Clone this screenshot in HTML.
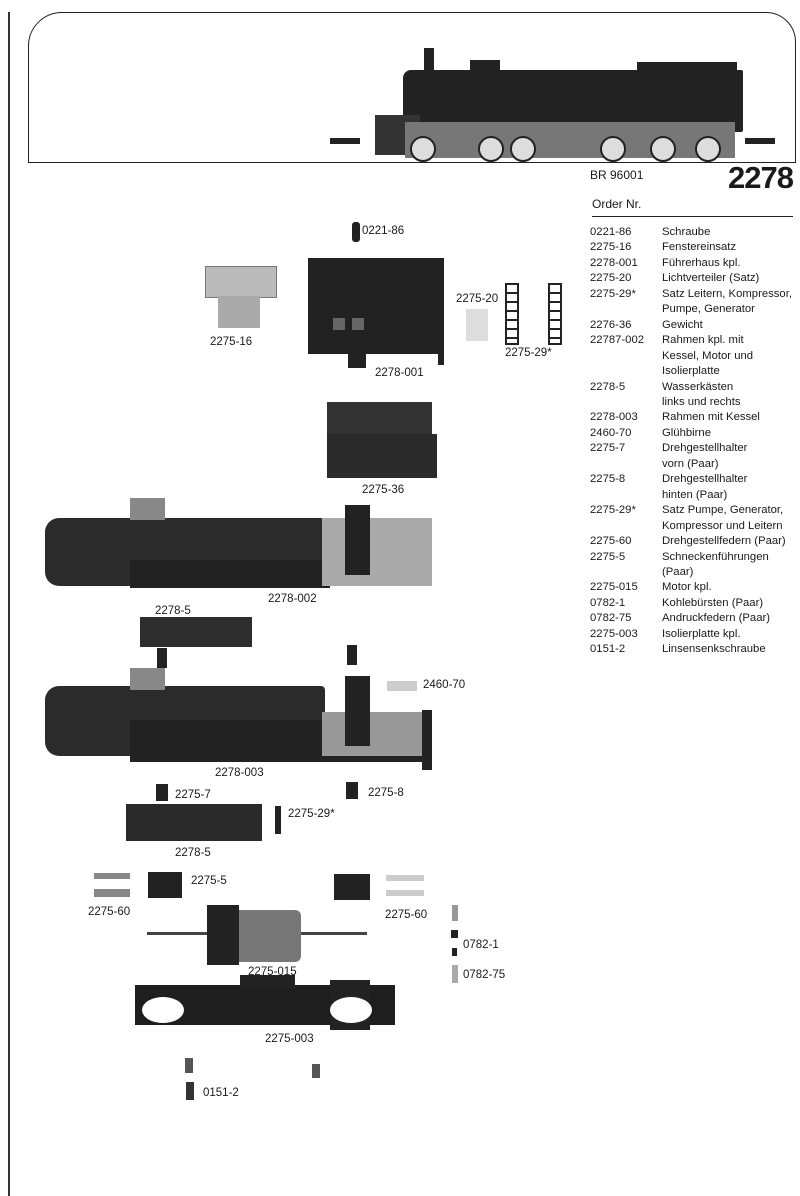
<!DOCTYPE html>
<html><head><meta charset="utf-8"><style>
body{margin:0;background:#fff;}
#p{position:relative;width:800px;height:1196px;overflow:hidden;background:#fff;font-family:"Liberation Sans",sans-serif;color:#1a1a1a;}
.a{position:absolute;}
.t{position:absolute;font-size:11.5px;white-space:nowrap;line-height:14px;z-index:5;}
.d{position:absolute;background:#222;}
.m{position:absolute;background:#555;}
.g{position:absolute;background:#bbb;}
.l{position:absolute;font-size:11.3px;line-height:15.45px;white-space:nowrap;}
</style></head><body><div id="p">
<div class="a" style="left:8px;top:12px;width:1.5px;height:1184px;background:#333"></div>
<div class="a" style="left:28px;top:12px;width:768px;height:151px;border:1.5px solid #222;border-radius:34px 30px 0 0;box-sizing:border-box"></div>
<!-- locomotive -->
<div class="d" style="left:403px;top:70px;width:340px;height:62px;border-radius:8px 2px 2px 2px"></div>
<div class="d" style="left:424px;top:48px;width:10px;height:24px"></div>
<div class="d" style="left:470px;top:60px;width:30px;height:12px"></div>
<div class="d" style="left:637px;top:62px;width:100px;height:12px"></div>
<div class="d" style="left:375px;top:115px;width:45px;height:40px;background:#333"></div>
<div class="m" style="left:405px;top:122px;width:330px;height:36px;background:#777"></div>
<div class="a" style="left:410px;top:136px;width:22px;height:22px;border-radius:50%;border:2px solid #222;background:#ddd"></div>
<div class="a" style="left:478px;top:136px;width:22px;height:22px;border-radius:50%;border:2px solid #222;background:#ddd"></div>
<div class="a" style="left:510px;top:136px;width:22px;height:22px;border-radius:50%;border:2px solid #222;background:#ddd"></div>
<div class="a" style="left:600px;top:136px;width:22px;height:22px;border-radius:50%;border:2px solid #222;background:#ddd"></div>
<div class="a" style="left:650px;top:136px;width:22px;height:22px;border-radius:50%;border:2px solid #222;background:#ddd"></div>
<div class="a" style="left:695px;top:136px;width:22px;height:22px;border-radius:50%;border:2px solid #222;background:#ddd"></div>
<div class="d" style="left:330px;top:138px;width:30px;height:6px"></div>
<div class="d" style="left:745px;top:138px;width:30px;height:6px"></div>

<div class="t" style="left:590px;top:168px;font-size:12px">BR 96001</div>
<div class="a" style="left:728px;top:160px;font-size:31px;font-weight:bold;letter-spacing:-1px">2278</div>
<div class="t" style="left:592px;top:197px;font-size:12px">Order Nr.</div>
<div class="a" style="left:592px;top:216px;width:201px;height:1px;background:#222"></div>
<div class="l" style="left:590px;top:225px">0221-86<br>2275-16<br>2278-001<br>2275-20<br>2275-29*<br><br>2276-36<br>22787-002<br><br><br>2278-5<br><br>2278-003<br>2460-70<br>2275-7<br><br>2275-8<br><br>2275-29*<br><br>2275-60<br>2275-5<br><br>2275-015<br>0782-1<br>0782-75<br>2275-003<br>0151-2</div>
<div class="l" style="left:662px;top:225px">Schraube<br>Fenstereinsatz<br>Führerhaus kpl.<br>Lichtverteiler (Satz)<br>Satz Leitern, Kompressor,<br>Pumpe, Generator<br>Gewicht<br>Rahmen kpl. mit<br>Kessel, Motor und<br>Isolierplatte<br>Wasserkästen<br>links und rechts<br>Rahmen mit Kessel<br>Glühbirne<br>Drehgestellhalter<br>vorn (Paar)<br>Drehgestellhalter<br>hinten (Paar)<br>Satz Pumpe, Generator,<br>Kompressor und Leitern<br>Drehgestellfedern (Paar)<br>Schneckenführungen<br>(Paar)<br>Motor kpl.<br>Kohlebürsten (Paar)<br>Andruckfedern (Paar)<br>Isolierplatte kpl.<br>Linsensenkschraube</div>

<!-- top parts -->
<div class="d" style="left:352px;top:222px;width:8px;height:20px;border-radius:3px"></div>
<div class="t" style="left:362px;top:224px">0221-86</div>
<div class="g" style="left:205px;top:266px;width:70px;height:30px;border:1px solid #777"></div>
<div class="g" style="left:218px;top:296px;width:42px;height:32px;background:#aaa"></div>
<div class="t" style="left:210px;top:335px">2275-16</div>
<div class="d" style="left:308px;top:258px;width:136px;height:96px"></div>
<div class="g" style="left:333px;top:318px;width:12px;height:12px;background:#666"></div>
<div class="g" style="left:352px;top:318px;width:12px;height:12px;background:#666"></div>
<div class="d" style="left:348px;top:354px;width:18px;height:14px"></div>
<div class="d" style="left:438px;top:265px;width:6px;height:100px"></div>
<div class="t" style="left:375px;top:366px">2278-001</div>
<div class="t" style="left:456px;top:292px">2275-20</div>
<div class="g" style="left:466px;top:309px;width:22px;height:32px;background:#ddd"></div>
<div class="a" style="left:505px;top:283px;width:10px;height:58px;border:2px solid #222;background:repeating-linear-gradient(#fff 0 7px,#222 7px 9px)"></div>
<div class="a" style="left:548px;top:283px;width:10px;height:58px;border:2px solid #222;background:repeating-linear-gradient(#fff 0 7px,#222 7px 9px)"></div>
<div class="t" style="left:505px;top:346px">2275-29*</div>
<div class="d" style="left:327px;top:402px;width:105px;height:32px;background:#333"></div>
<div class="d" style="left:327px;top:434px;width:110px;height:44px;background:#2a2a2a"></div>
<div class="t" style="left:362px;top:483px">2275-36</div>

<!-- 2278-002 -->
<div class="d" style="left:45px;top:518px;width:280px;height:68px;border-radius:14px 4px 4px 14px;background:#2b2b2b"></div>
<div class="m" style="left:130px;top:498px;width:35px;height:22px;background:#888"></div>
<div class="d" style="left:130px;top:560px;width:200px;height:28px"></div>
<div class="g" style="left:322px;top:518px;width:110px;height:68px;background:#aaa"></div>
<div class="d" style="left:345px;top:505px;width:25px;height:70px"></div>
<div class="t" style="left:268px;top:592px">2278-002</div>
<div class="t" style="left:155px;top:604px">2278-5</div>
<div class="d" style="left:140px;top:617px;width:112px;height:30px;background:#2e2e2e"></div>
<div class="d" style="left:157px;top:648px;width:10px;height:20px"></div>
<div class="d" style="left:347px;top:645px;width:10px;height:20px"></div>
<!-- 2278-003 -->
<div class="d" style="left:45px;top:686px;width:280px;height:70px;border-radius:14px 4px 4px 14px;background:#2b2b2b"></div>
<div class="m" style="left:130px;top:668px;width:35px;height:22px;background:#888"></div>
<div class="d" style="left:130px;top:720px;width:300px;height:42px"></div>
<div class="g" style="left:322px;top:712px;width:108px;height:44px;background:#999"></div>
<div class="d" style="left:345px;top:676px;width:25px;height:70px"></div>
<div class="d" style="left:422px;top:710px;width:10px;height:60px"></div>
<div class="g" style="left:387px;top:681px;width:30px;height:10px;background:#ccc"></div>
<div class="t" style="left:423px;top:678px">2460-70</div>
<div class="t" style="left:215px;top:766px">2278-003</div>
<div class="d" style="left:156px;top:784px;width:12px;height:17px"></div>
<div class="t" style="left:175px;top:788px">2275-7</div>
<div class="d" style="left:346px;top:782px;width:12px;height:17px"></div>
<div class="t" style="left:368px;top:786px">2275-8</div>
<div class="d" style="left:126px;top:804px;width:136px;height:37px;background:#2a2a2a"></div>
<div class="d" style="left:275px;top:806px;width:6px;height:28px"></div>
<div class="t" style="left:288px;top:807px">2275-29*</div>
<div class="t" style="left:175px;top:846px">2278-5</div>
<!-- lower -->
<div class="g" style="left:94px;top:873px;width:36px;height:6px;background:#888"></div>
<div class="g" style="left:94px;top:889px;width:36px;height:8px;background:#888"></div>
<div class="t" style="left:88px;top:905px">2275-60</div>
<div class="d" style="left:148px;top:872px;width:34px;height:26px"></div>
<div class="t" style="left:191px;top:874px">2275-5</div>
<div class="d" style="left:334px;top:874px;width:36px;height:26px"></div>
<div class="g" style="left:386px;top:875px;width:38px;height:6px;background:#ccc"></div>
<div class="g" style="left:386px;top:890px;width:38px;height:6px;background:#ccc"></div>
<div class="t" style="left:385px;top:908px">2275-60</div>
<div class="d" style="left:207px;top:905px;width:32px;height:60px"></div>
<div class="m" style="left:239px;top:910px;width:62px;height:52px;background:#777;border-radius:0 6px 6px 0"></div>
<div class="a" style="left:147px;top:932px;width:60px;height:3px;background:#444"></div>
<div class="a" style="left:301px;top:932px;width:66px;height:3px;background:#444"></div>
<div class="t" style="left:248px;top:965px">2275-015</div>
<div class="g" style="left:452px;top:905px;width:6px;height:16px;background:#999"></div>
<div class="d" style="left:451px;top:930px;width:7px;height:8px"></div>
<div class="d" style="left:452px;top:948px;width:5px;height:8px"></div>
<div class="t" style="left:463px;top:938px">0782-1</div>
<div class="g" style="left:452px;top:965px;width:6px;height:18px;background:#aaa"></div>
<div class="t" style="left:463px;top:968px">0782-75</div>
<div class="d" style="left:135px;top:985px;width:260px;height:40px;background:#1e1e1e"></div>
<div class="d" style="left:240px;top:975px;width:55px;height:14px"></div>
<div class="d" style="left:330px;top:980px;width:40px;height:50px"></div>
<div class="a" style="left:142px;top:997px;width:42px;height:26px;border-radius:50%;background:#fff"></div>
<div class="a" style="left:330px;top:997px;width:42px;height:26px;border-radius:50%;background:#fff"></div>
<div class="t" style="left:265px;top:1032px">2275-003</div>
<div class="d" style="left:185px;top:1058px;width:8px;height:15px;background:#555"></div>
<div class="d" style="left:312px;top:1064px;width:8px;height:14px;background:#555"></div>
<div class="d" style="left:186px;top:1082px;width:8px;height:18px;background:#333"></div>
<div class="t" style="left:203px;top:1086px">0151-2</div>
</div></body></html>
